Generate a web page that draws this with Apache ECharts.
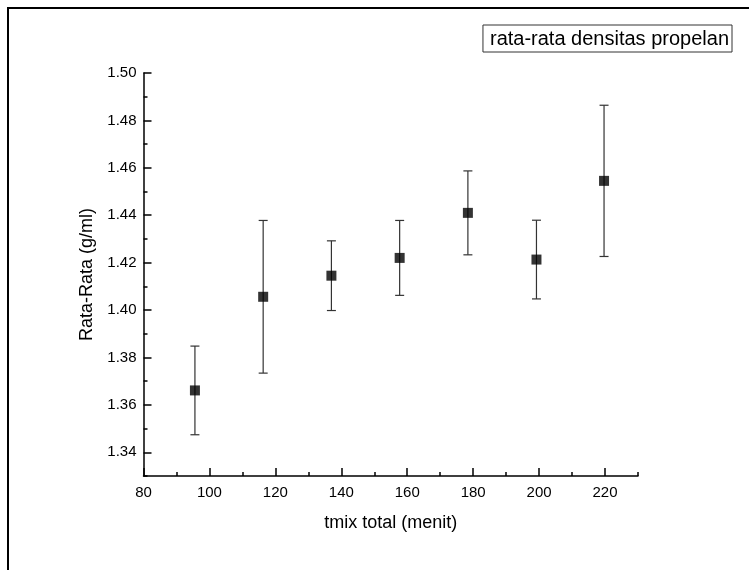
<!DOCTYPE html>
<html>
<head>
<meta charset="utf-8">
<script src="https://cdn.jsdelivr.net/npm/echarts@6/dist/echarts.min.js"></script>
<style>
html, body { margin: 0; padding: 0; background: #fff; }
#chart { width: 749px; height: 570px; }
</style>
</head>
<body>
<div id="chart"></div>
<script>
// data
const tmix = [95.6, 116.3, 137.0, 157.7, 178.4, 199.2, 219.7];
const rataRata = [1.3661, 1.4056, 1.4145, 1.4220, 1.4410, 1.4213, 1.4545];
const galat = [0.0187, 0.0322, 0.0147, 0.0158, 0.0177, 0.0166, 0.0319];
const xTicks = [80, 100, 120, 140, 160, 180, 200, 220];
const yTicks = [1.34, 1.36, 1.38, 1.40, 1.42, 1.44, 1.46, 1.48, 1.50];

const FONT = 'Liberation Sans, Arial, sans-serif';

const chart = echarts.init(document.getElementById('chart'));

const points = tmix.map((x, i) => [x, rataRata[i]]);
const bars = tmix.map((x, i) => [x, rataRata[i] - galat[i], rataRata[i] + galat[i]]);

// error bar: vertical line + two caps
const renderErr = (params, api) => {
    const x = api.value(0);
    const top = api.coord([x, api.value(2)]);
    const bot = api.coord([x, api.value(1)]);
    const w = 4.5;
    const st = { stroke: '#333', lineWidth: 1.2 };
    return {
        type: 'group',
        children: [
            { type: 'line', shape: { x1: top[0], y1: top[1], x2: bot[0], y2: bot[1] }, style: st },
            { type: 'line', shape: { x1: top[0] - w, y1: top[1], x2: top[0] + w, y2: top[1] }, style: st },
            { type: 'line', shape: { x1: bot[0] - w, y1: bot[1], x2: bot[0] + w, y2: bot[1] }, style: st }
        ]
    };
};

const axisLine = { show: true, lineStyle: { color: '#000', width: 1.5 } };

const option = {
    animation: false,
    backgroundColor: '#fff',
    textStyle: { fontFamily: FONT },
    grid: { left: 143.5, right: 111, top: 73, bottom: 94 },
    graphic: [{
        type: 'rect',
        shape: { x: 8, y: 8, width: 800, height: 700 },
        style: { fill: 'none', stroke: '#000', lineWidth: 2 },
        silent: true
    }],
    legend: {
        data: ['rata-rata densitas propelan'],
        right: 17,
        top: 25,
        icon: 'rect',
        itemWidth: 0,
        itemHeight: 0,
        borderColor: '#333',
        borderWidth: 1,
        borderRadius: 0,
        padding: [4, 3, 3, 2],
        textStyle: { fontFamily: FONT, fontSize: 20, color: '#000' }
    },
    xAxis: [
        {   // minor ticks
            type: 'value', min: 80, max: 230, interval: 10,
            axisLine: axisLine,
            axisTick: { inside: true, length: 4, lineStyle: { color: '#000', width: 1.5 } },
            axisLabel: { show: false },
            splitLine: { show: false }
        },
        {   // major ticks + labels
            type: 'value', min: 80, max: 230, position: 'bottom',
            axisLine: { show: false },
            axisTick: { inside: true, length: 8, customValues: xTicks, lineStyle: { color: '#000', width: 1.5 } },
            axisLabel: { customValues: xTicks, fontFamily: FONT, fontSize: 15, color: '#000', margin: 9 },
            splitLine: { show: false },
            name: 'tmix total (menit)',
            nameLocation: 'middle',
            nameGap: 38,
            nameTextStyle: { fontFamily: FONT, fontSize: 18, color: '#000' }
        }
    ],
    yAxis: [
        {
            type: 'value', min: 1.33, max: 1.50, interval: 0.01,
            axisLine: axisLine,
            axisTick: { inside: true, length: 4, lineStyle: { color: '#000', width: 1.5 } },
            axisLabel: { show: false },
            splitLine: { show: false }
        },
        {
            type: 'value', min: 1.33, max: 1.50, position: 'left',
            axisLine: { show: false },
            axisTick: { inside: true, length: 8, customValues: yTicks, lineStyle: { color: '#000', width: 1.5 } },
            axisLabel: {
                customValues: yTicks, fontFamily: FONT, fontSize: 15, color: '#000', margin: 7,
                formatter: v => v.toFixed(2)
            },
            splitLine: { show: false },
            name: 'Rata-Rata (g/ml)',
            nameLocation: 'middle',
            nameGap: 45,
            nameTextStyle: { fontFamily: FONT, fontSize: 18, color: '#000' }
        }
    ],
    series: [
        {
            name: 'error',
            type: 'custom',
            renderItem: renderErr,
            data: bars,
            encode: { x: 0, y: [1, 2] },
            z: 2,
            silent: true
        },
        {
            name: 'rata-rata densitas propelan',
            type: 'scatter',
            data: points,
            symbol: 'rect',
            symbolSize: 10,
            itemStyle: { color: '#000' },
            z: 3
        }
    ]
};

chart.setOption(option);
</script>
</body>
</html>
